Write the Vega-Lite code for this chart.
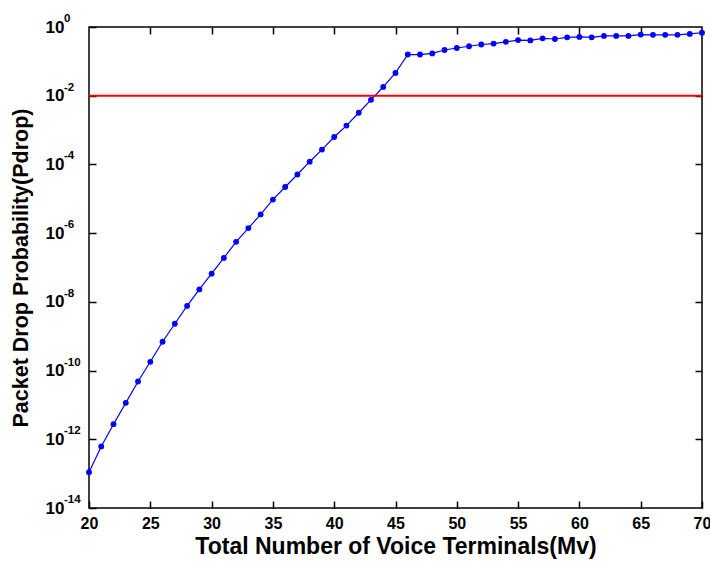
{
  "$schema": "https://vega.github.io/schema/vega-lite/v6.json",
  "width": 613,
  "height": 481,
  "autosize": {"type": "none"},
  "padding": {"left": 89, "top": 27, "right": 8, "bottom": 57},
  "background": "white",
  "config": {
    "view": {"stroke": "black", "strokeWidth": 1.5},
    "font": "Liberation Sans"
  },
  "datasets": {
    "pdrop": [
      {"Mv": 20, "P": 1.1e-13}, {"Mv": 21, "P": 6.2e-13}, {"Mv": 22, "P": 2.75e-12}, {"Mv": 23, "P": 1.15e-11},
      {"Mv": 24, "P": 4.8e-11}, {"Mv": 25, "P": 1.8e-10}, {"Mv": 26, "P": 6.9e-10}, {"Mv": 27, "P": 2.3e-9},
      {"Mv": 28, "P": 7.6e-9}, {"Mv": 29, "P": 2.3e-8}, {"Mv": 30, "P": 6.6e-8}, {"Mv": 31, "P": 1.9e-7},
      {"Mv": 32, "P": 5.6e-7}, {"Mv": 33, "P": 1.4e-6}, {"Mv": 34, "P": 3.5e-6}, {"Mv": 35, "P": 9.5e-6},
      {"Mv": 36, "P": 2.2e-5}, {"Mv": 37, "P": 5.1e-5}, {"Mv": 38, "P": 1.2e-4}, {"Mv": 39, "P": 2.7e-4},
      {"Mv": 40, "P": 6.3e-4}, {"Mv": 41, "P": 1.35e-3}, {"Mv": 42, "P": 3.2e-3}, {"Mv": 43, "P": 7.6e-3},
      {"Mv": 44, "P": 1.8e-2}, {"Mv": 45, "P": 4.6e-2}, {"Mv": 46, "P": 0.158}, {"Mv": 47, "P": 0.158},
      {"Mv": 48, "P": 0.17}, {"Mv": 49, "P": 0.214}, {"Mv": 50, "P": 0.245}, {"Mv": 51, "P": 0.275},
      {"Mv": 52, "P": 0.31}, {"Mv": 53, "P": 0.33}, {"Mv": 54, "P": 0.37}, {"Mv": 55, "P": 0.417},
      {"Mv": 56, "P": 0.407}, {"Mv": 57, "P": 0.468}, {"Mv": 58, "P": 0.447}, {"Mv": 59, "P": 0.5},
      {"Mv": 60, "P": 0.513}, {"Mv": 61, "P": 0.5}, {"Mv": 62, "P": 0.55}, {"Mv": 63, "P": 0.55},
      {"Mv": 64, "P": 0.55}, {"Mv": 65, "P": 0.6}, {"Mv": 66, "P": 0.59}, {"Mv": 67, "P": 0.59},
      {"Mv": 68, "P": 0.59}, {"Mv": 69, "P": 0.63}, {"Mv": 70, "P": 0.68}
    ],
    "threshold": [{"P": 0.01}],
    "exps": [
      {"P": 1e-14, "e": "-14"}, {"P": 1e-12, "e": "-12"}, {"P": 1e-10, "e": "-10"}, {"P": 1e-8, "e": "-8"},
      {"P": 1e-6, "e": "-6"}, {"P": 1e-4, "e": "-4"}, {"P": 1e-2, "e": "-2"}, {"P": 1, "e": "0"}
    ]
  },
  "layer": [
    {
      "data": {"name": "pdrop"},
      "mark": {"type": "line", "color": "#0000FF", "strokeWidth": 1.2, "point": {"filled": true, "color": "#0000FF", "size": 34}},
      "encoding": {
        "x": {
          "field": "Mv", "type": "quantitative",
          "scale": {"domain": [20, 70], "nice": false, "zero": false},
          "axis": {
            "values": [20, 25, 30, 35, 40, 45, 50, 55, 60, 65, 70],
            "grid": false, "domain": false, "tickSize": 7, "offset": -7, "tickColor": "black", "tickWidth": 1.5,
            "title": "Total Number of  Voice Terminals(Mv)",
            "titleFont": "Liberation Sans", "titleColor": "black",
            "titleFontSize": 23, "titleFontWeight": "bold", "titlePadding": 4,
            "labelFont": "Liberation Sans", "labelColor": "black",
            "labelFontSize": 16, "labelFontWeight": "bold", "labelPadding": 7,
            "labelFlush": false
          }
        },
        "y": {
          "field": "P", "type": "quantitative",
          "scale": {"type": "log", "domain": [1e-14, 1], "nice": false},
          "axis": {
            "values": [1e-14, 1e-12, 1e-10, 1e-8, 1e-6, 1e-4, 1e-2, 1],
            "grid": false, "domain": false, "tickSize": 7, "offset": -7, "tickColor": "black", "tickWidth": 1.5,
            "labelExpr": "'10'",
            "title": "Packet Drop Probability(Pdrop)",
            "titleFont": "Liberation Sans", "titleColor": "black",
            "titleFontSize": 21.5, "titleFontWeight": "bold", "titlePadding": 13,
            "labelFont": "Liberation Sans", "labelColor": "black",
            "labelFontSize": 17, "labelFontWeight": "bold", "labelPadding": 25,
            "labelFlush": false
          }
        }
      }
    },
    {
      "data": {"name": "threshold"},
      "mark": {"type": "rule", "color": "#FF0000", "strokeWidth": 2},
      "encoding": {"y": {"field": "P", "type": "quantitative", "axis": null}}
    },
    {
      "data": {"name": "exps"},
      "mark": {"type": "text", "align": "left", "baseline": "middle", "dx": -25, "dy": -8, "fontSize": 11.5, "fontWeight": "bold", "font": "Liberation Sans", "color": "black"},
      "encoding": {
        "x": {"datum": 20, "type": "quantitative", "axis": null},
        "y": {"field": "P", "type": "quantitative", "axis": null},
        "text": {"field": "e"}
      }
    },
    {
      "data": {"name": "threshold"},
      "mark": {"type": "point", "opacity": 0},
      "encoding": {
        "x": {"datum": 20, "type": "quantitative", "axis": {"orient": "top", "values": [25, 30, 35, 40, 45, 50, 55, 60, 65], "labels": false, "title": null, "grid": false, "domain": false, "tickSize": 7, "offset": -7, "tickColor": "black", "tickWidth": 1.5}},
        "y": {"field": "P", "type": "quantitative", "axis": {"orient": "right", "values": [1e-12, 1e-10, 1e-8, 1e-6, 1e-4, 1e-2], "labels": false, "title": null, "grid": false, "domain": false, "tickSize": 7, "offset": -7, "tickColor": "black", "tickWidth": 1.5}}
      }
    }
  ],
  "resolve": {"axis": {"x": "independent", "y": "independent"}}
}
